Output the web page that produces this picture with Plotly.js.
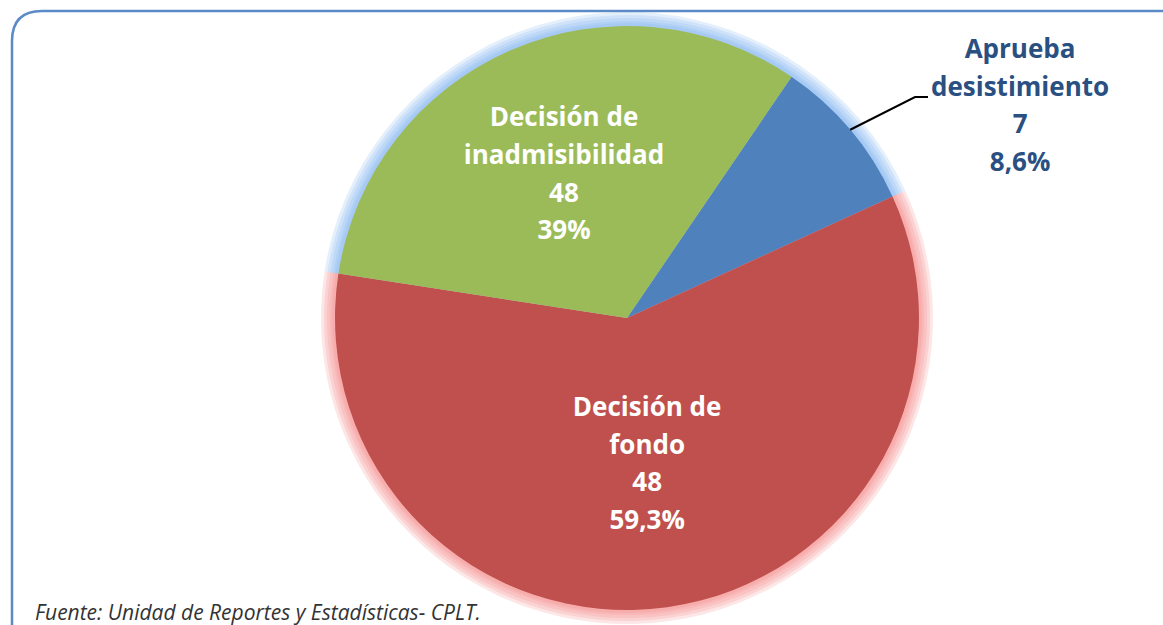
<!DOCTYPE html>
<html>
<head>
<meta charset="utf-8">
<script src="https://cdn.plot.ly/plotly-3.0.1.min.js"></script>
<style>html,body{margin:0;padding:0;background:#fff;}#chart{width:1163px;height:625px;}</style>
</head>
<body>
<div id="chart"></div>
<script>
// ---- data ----
var categories = ["Aprueba desistimiento", "Decisión de fondo", "Decisión de inadmisibilidad"];
var labelLines = [["Aprueba", "desistimiento"], ["Decisión de", "fondo"], ["Decisión de", "inadmisibilidad"]];
var values = [7, 48, 26];                     // slice sizes as drawn
var shownCounts = ["7", "48", "48"];          // counts printed in the labels
var shownPercents = ["8,6%", "59,3%", "39%"]; // percentages printed in the labels
var sliceColors = ["#4F81BD", "#C0504D", "#9BBB59"];
var glowColors = ["rgba(130,180,240,0.22)", "rgba(245,140,140,0.22)", "rgba(130,180,240,0.22)"];
var sourceNote = "Fuente: Unidad de Reportes y Estadísticas- CPLT.";

// ---- layout geometry ----
var W = 1163, H = 625;
var cx = 627, cy = 318, R = 292;
var rotation = 34.3;
var FONT = "'Open Sans', Lato, sans-serif";
var textSize = 26, lineBase = 29;

function domainFor(r) {
  return {
    x: [(cx - r) / W, (cx + r) / W],
    y: [(H - cy - r) / H, (H - cy + r) / H]
  };
}
function labelText(i) {
  var lines = labelLines[i].concat([shownCounts[i], shownPercents[i]]);
  return lines.map(function (s) {
    return '<span style="font-size:' + textSize + 'px">' + s + '</span>';
  }).join("<br>");
}

var traces = [];
[14, 11, 8, 5, 3].forEach(function (extra) {
  traces.push({
    type: "pie",
    values: values,
    labels: categories,
    sort: false,
    direction: "clockwise",
    rotation: rotation,
    domain: domainFor(R + extra),
    marker: { colors: glowColors, line: { width: 0 } },
    textinfo: "none",
    hoverinfo: "skip",
    showlegend: false
  });
});

var texts = categories.map(function (c, i) { return i === 0 ? "" : labelText(i); });

traces.push({
  type: "pie",
  values: values,
  labels: categories,
  text: texts,
  sort: false,
  direction: "clockwise",
  rotation: rotation,
  domain: domainFor(R),
  marker: { colors: sliceColors, line: { width: 0 } },
  textinfo: "text",
  textposition: "inside",
  insidetextorientation: "horizontal",
  insidetextfont: { family: FONT, size: lineBase, color: "#ffffff", weight: 700 },
  hoverinfo: "label+value",
  showlegend: false
});

// outside label for the small slice, with leader line computed from slice geometry
var total = values.reduce(function (a, b) { return a + b; }, 0);
var midDeg = rotation + (values[0] / total) * 360 / 2;
var midRad = midDeg * Math.PI / 180;
var px = cx + R * Math.sin(midRad), py = cy - R * Math.cos(midRad);
var elbowX = 915, elbowY = 97, endX = 928;

function pxToPaperX(x) { return x / W; }
function pxToPaperY(y) { return 1 - y / H; }

var shapes = [];
shapes.push({
  type: "path", xref: "paper", yref: "paper",
  path: "M " + pxToPaperX(px) + "," + pxToPaperY(py) +
        " L " + pxToPaperX(elbowX) + "," + pxToPaperY(elbowY) +
        " L " + pxToPaperX(endX) + "," + pxToPaperY(elbowY),
  line: { color: "#000000", width: 2 }
});
var L = 12, T = 11, Rr = 30, Rt = W + 20, B = H + 30;
shapes.push({
  type: "path", xref: "paper", yref: "paper",
  path: "M " + pxToPaperX(L + Rr) + "," + pxToPaperY(B) +
        " Q " + pxToPaperX(L) + "," + pxToPaperY(B) + " " + pxToPaperX(L) + "," + pxToPaperY(B - Rr) +
        " L " + pxToPaperX(L) + "," + pxToPaperY(T + Rr) +
        " Q " + pxToPaperX(L) + "," + pxToPaperY(T) + " " + pxToPaperX(L + Rr) + "," + pxToPaperY(T) +
        " L " + pxToPaperX(Rt) + "," + pxToPaperY(T),
  line: { color: "#5B8AC6", width: 2.5 }
});

var annotations = [
  {
    xref: "paper", yref: "paper", x: 1020 / W, y: pxToPaperY(104),
    xanchor: "center", yanchor: "middle", showarrow: false,
    text: labelText(0),
    font: { family: FONT, size: lineBase, color: "#2A5082", weight: 700 },
    align: "center"
  },
  {
    xref: "paper", yref: "paper", x: 33 / W, y: pxToPaperY(596),
    xanchor: "left", yanchor: "top", showarrow: false,
    text: sourceNote,
    font: { family: FONT, size: 21, color: "#333333", style: "italic" }
  }
];

var layout = {
  width: W, height: H,
  margin: { l: 0, r: 0, t: 0, b: 0 },
  paper_bgcolor: "#ffffff",
  showlegend: false,
  shapes: shapes,
  annotations: annotations
};

Plotly.newPlot("chart", traces, layout, { displayModeBar: false, staticPlot: true });
</script>
</body>
</html>
